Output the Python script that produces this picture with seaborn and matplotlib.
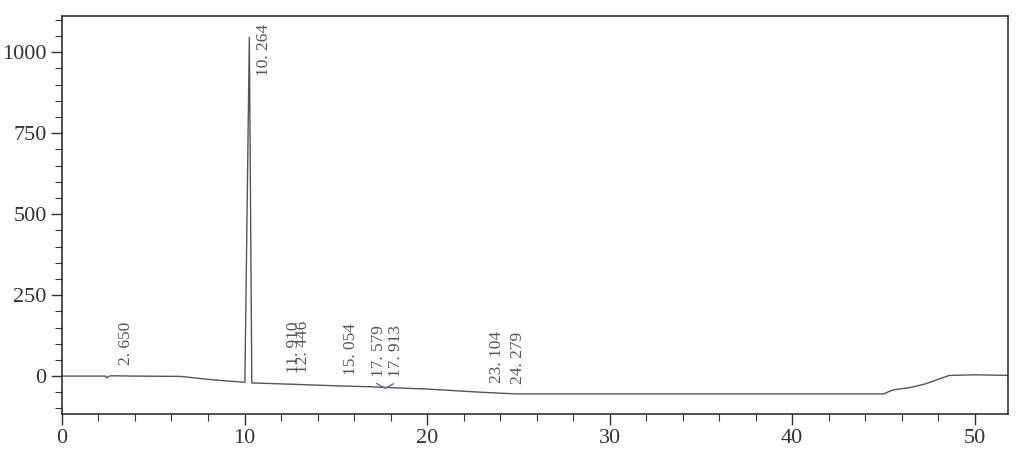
import numpy as np
import pandas as pd
import seaborn as sns
import matplotlib
matplotlib.use("Agg")
import matplotlib.pyplot as plt
from matplotlib.ticker import MultipleLocator

# chromatogram trace (time in min, signal)
times = [0.0, 2.40, 2.46, 2.55, 2.70, 4.0, 6.5, 7.0, 8.0, 9.0, 10.02, 10.264,
         10.40, 10.6, 12.0, 14.0, 15.0, 17.0, 17.7, 20.0, 23.0, 24.5, 25.0,
         35.0, 45.0, 45.5, 46.5, 47.3, 48.0, 48.6, 50.0, 52.0]
signal = [0.0, 0.0, -6.0, -1.0, 1.0, 0.0, -1.0, -4.0, -10.0, -15.0, -19.0, 1046.0,
          -21.0, -21.5, -24.0, -28.0, -30.0, -33.0, -35.0, -40.0, -50.0, -54.0, -55.0,
          -55.0, -55.0, -43.0, -35.0, -24.0, -10.0, 2.0, 4.0, 2.0]

# peak retention times, label text, where each label starts (bottom of the text)
peak_rt = [2.650, 10.264, 11.910, 12.446, 15.054, 17.579, 17.913, 23.104, 24.279]
peak_labels = ["2. 650", "10. 264", "11. 910", "12. 446", "15. 054",
               "17. 579", "17. 913", "23. 104", "24. 279"]
label_bottom = [34, 926, 9, 9, 3, -3, -3, -22, -25]
# horizontal nudge of each label in pixels (the software spreads close labels)
label_nudge = [8, 7, 7, 6, 6, -12, -1, 5, 5]

# blue baseline markers
marker_rt = [17.579, 17.913]

df = pd.DataFrame({"time": times, "signal": signal})

sns.set_style("ticks")
plt.rcParams["font.family"] = ["Liberation Serif", "DejaVu Serif"]

fig = plt.figure(figsize=(10.24, 4.5), dpi=100)
ax = fig.add_axes([0.0605, 0.08, 0.9235, 0.884])

sns.lineplot(data=df, x="time", y="signal", ax=ax, estimator=None, sort=False,
             color="#555555", linewidth=1.0)

# baseline markers as short slanted strokes
base_at = np.interp(marker_rt, times, signal)
ax.plot([marker_rt[0] - 0.35, marker_rt[0] + 0.1], [base_at[0] + 12, base_at[0] - 2],
        color="#5555dd", linewidth=0.9)
ax.plot([marker_rt[1] - 0.2, marker_rt[1] + 0.25], [base_at[1] - 2, base_at[1] + 12],
        color="#5555dd", linewidth=0.9)

for rt, lab, yb, dx in zip(peak_rt, peak_labels, label_bottom, label_nudge):
    ax.annotate(lab, xy=(rt, yb), xytext=(dx, 0), textcoords="offset pixels",
                rotation=90, ha="left", va="bottom", fontsize=12.5, color="#555555")

ax.set_xlim(0, 51.8)
ax.set_ylim(-117, 1111)
ax.xaxis.set_major_locator(MultipleLocator(10))
ax.xaxis.set_minor_locator(MultipleLocator(2))
ax.yaxis.set_major_locator(MultipleLocator(250))
ax.yaxis.set_minor_locator(MultipleLocator(50))
ax.tick_params(which="major", length=8, width=1.0, labelsize=16, color="#333333",
               labelcolor="#333333", pad=3)
ax.tick_params(which="minor", length=5, width=0.8, color="#333333")
ax.set_xlabel("")
ax.set_ylabel("")
for sp in ax.spines.values():
    sp.set_visible(True)
    sp.set_color("#222222")
    sp.set_linewidth(1.1)

fig.savefig("out.png", dpi=100)
